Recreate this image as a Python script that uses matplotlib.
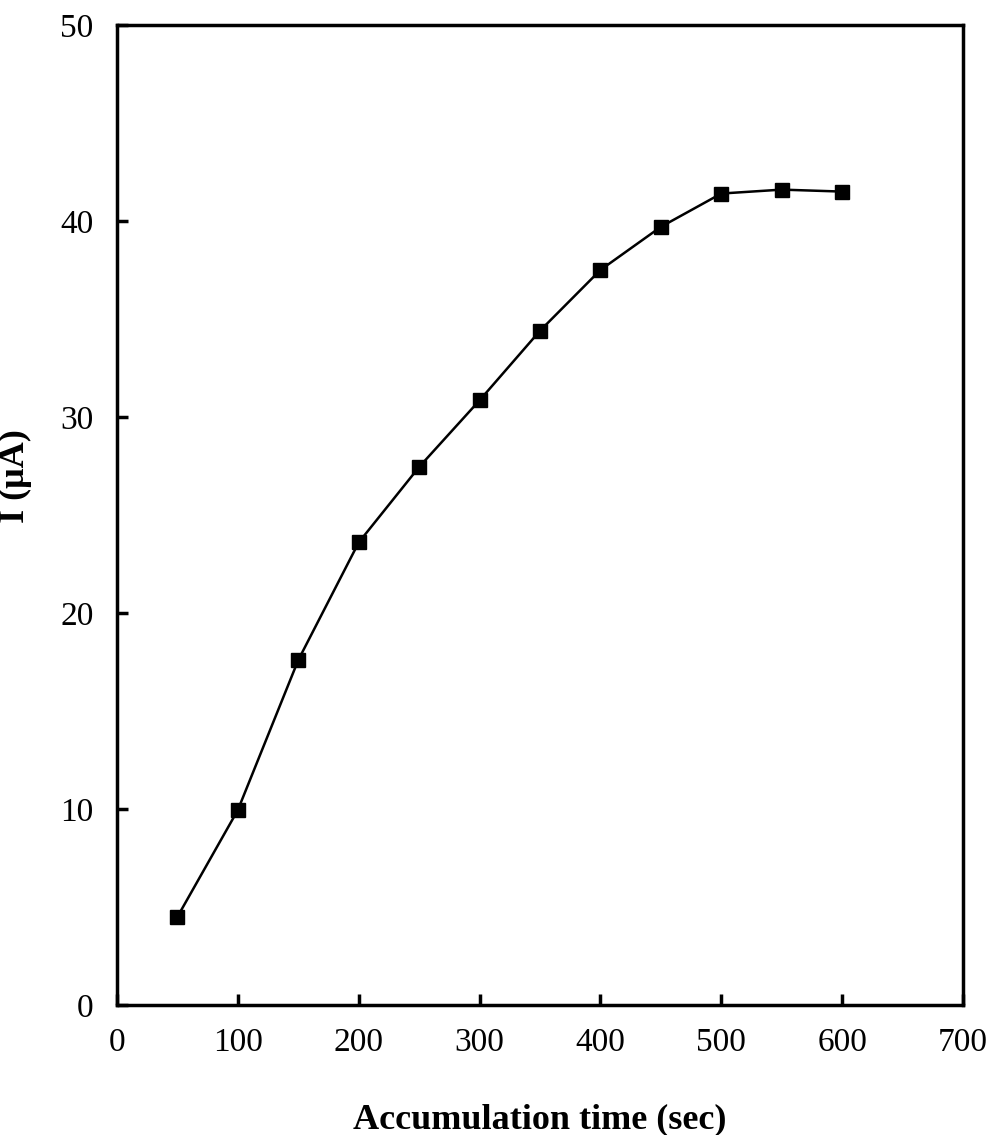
import numpy as np
import matplotlib.pyplot as plt

plt.rcParams['font.family'] = ['Liberation Serif', 'DejaVu Serif']

# 数据
time_sec = [50, 100, 150, 200, 250, 300, 350, 400, 450, 500, 550, 600]
current_uA = [4.5, 9.95, 17.6, 23.6, 27.45, 30.85, 34.4, 37.5, 39.7, 41.4, 41.6, 41.5]
x_ticks = [0, 100, 200, 300, 400, 500, 600, 700]
y_ticks = [0, 10, 20, 30, 40, 50]

fig = plt.figure(figsize=(10, 11.35), dpi=100)
ax = fig.add_axes([0.117, 0.1145, 0.846, 0.8635])

ax.plot(time_sec, current_uA, color='black', linewidth=1.8,
        marker='s', markersize=10, markerfacecolor='black', markeredgecolor='black')

ax.set_xlim(0, 700)
ax.set_ylim(0, 50)
ax.set_xticks(x_ticks)
ax.set_yticks(y_ticks)

for s in ax.spines.values():
    s.set_linewidth(2.5)

ax.tick_params(direction='in', length=8, width=2.5, labelsize=24,
               top=False, right=False)
ax.tick_params(axis='x', pad=16)
ax.tick_params(axis='y', pad=17)

ax.set_xlabel('Accumulation time (sec)', fontsize=26, fontweight='bold')
ax.xaxis.set_label_coords(0.5, -0.1)
ax.set_ylabel('I (μA)', fontsize=26, fontweight='bold')
ax.yaxis.set_label_coords(-0.1, 0.54)

fig.savefig('out.png', dpi=100)
